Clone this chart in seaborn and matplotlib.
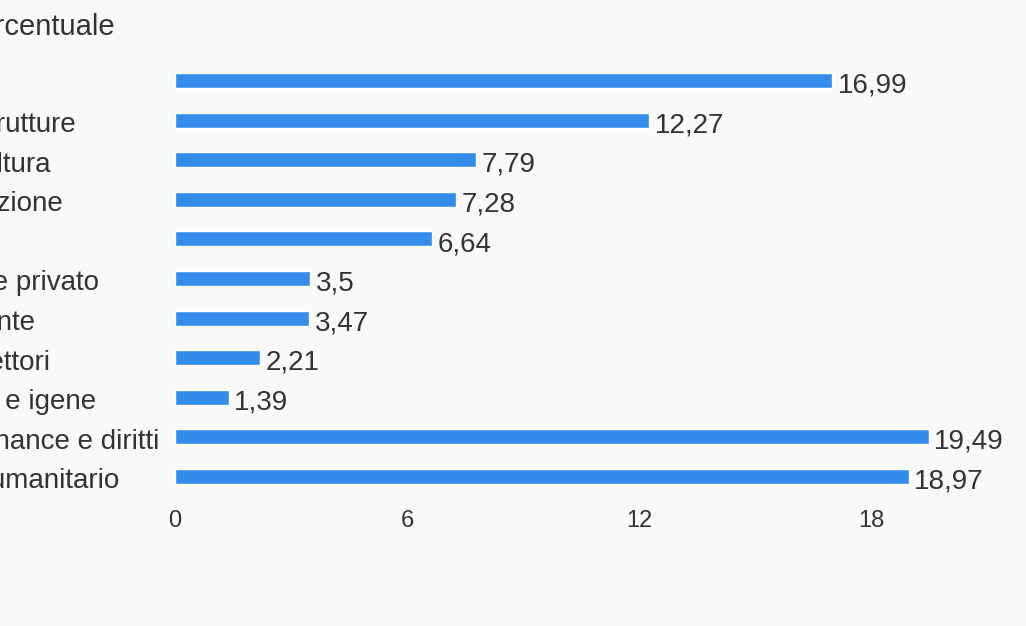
import matplotlib
matplotlib.use("Agg")
import matplotlib.pyplot as plt
import matplotlib.transforms as mtransforms
import seaborn as sns
from matplotlib import font_manager

# data (labels are cut off at the left edge there)
settori = [
    "Varie",
    "Infrastrutture",
    "Agricoltura",
    "Educazione",
    "Pace",
    "Settore privato",
    "Ambiente",
    "Altri settori",
    "Acqua e igene",
    "Governance e diritti",
    "Aiuto umanitario",
]
percentuali = [16.99, 12.27, 7.79, 7.28, 6.64, 3.5, 3.47, 2.21, 1.39, 19.49, 18.97]
x_ticks = [0, 6, 12, 18]
titolo = "Percentuale"

bg = "#f9f9f9"
bar_color = "#338bea"
text_color = "#333333"

sns.set_theme(style="white")
plt.rcParams["font.family"] = ["Liberation Sans", "DejaVu Sans"]

installed = {f.name for f in font_manager.fontManager.ttflist}
tick_font = "Liberation Sans Narrow" if "Liberation Sans Narrow" in installed else "Liberation Sans"

W, H = 1026, 626
fig = plt.figure(figsize=(W / 100, H / 100), dpi=100, facecolor=bg)
# axes: x=0 at 175px, 1 unit = 38.67px; rows from 61px to 496px
ax = fig.add_axes([175 / W, 1 - 496 / H, 22 * 38.667 / W, 435 / H])
ax.set_facecolor(bg)

sns.barplot(x=percentuali, y=settori, orient="h", color=bar_color,
            width=0.38, saturation=1, ax=ax)

ax.set_xlim(0, 22)
ax.set_ylim(10.5, -0.5)
ax.set_xticks(x_ticks)
ax.set_xticklabels([str(t) for t in x_ticks], fontsize=17, color=text_color,
                   family=tick_font)
ax.tick_params(axis="x", length=0, pad=10)

# category labels are left aligned, starting off the left edge of the figure
ax.tick_params(axis="y", length=0, pad=256 * 0.72)
nudge = mtransforms.ScaledTranslation(0, -2 / 100, fig.dpi_scale_trans)
for lab in ax.get_yticklabels():
    lab.set_ha("left")
    lab.set_fontsize(20)
    lab.set_color(text_color)
    lab.set_transform(lab.get_transform() + nudge)

vals = ax.bar_label(ax.containers[0],
                    labels=[str(v).replace(".", ",") for v in percentuali],
                    padding=4, fontsize=20, color=text_color)
for t in vals:
    t.set_va("center_baseline")
    t.xyann = (4, -1.5)

ax.set_xlabel("")
ax.set_ylabel("")
sns.despine(ax=ax, left=True, bottom=True)
ax.grid(False)

fig.text(115 / W, 1 - 27 / H, titolo, ha="right", va="center",
         fontsize=21, color=text_color)

fig.savefig("out.png", dpi=100, facecolor=bg)
